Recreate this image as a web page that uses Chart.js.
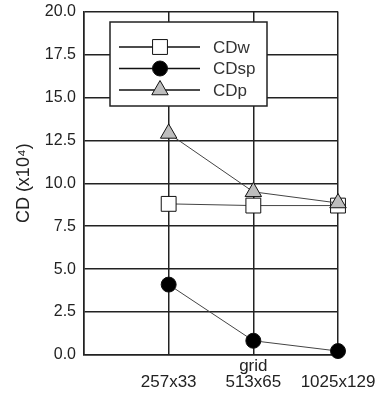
<!DOCTYPE html>
<html>
<head>
<meta charset="utf-8">
<script src="https://cdn.jsdelivr.net/npm/chart.js@4"></script>
<style>
  html, body { margin: 0; padding: 0; background: #fff; }
  #wrap { width: 379px; height: 396px; }
</style>
</head>
<body>
<div id="wrap"><canvas id="chart" width="379" height="396"></canvas></div>
<script>
const grids = ['257x33', '513x65', '1025x129'];
const xTitle = 'grid';
const cdw = [8.8, 8.7, 8.7];
const cdsp = [4.1, 0.83, 0.23];
const cdp = [12.9, 9.5, 8.85];
const yTicks = [0, 2.5, 5, 7.5, 10, 12.5, 15, 17.5, 20];

const ink = '#222';
const font = 'Liberation Sans, Arial, sans-serif';

const toPoints = (vals) => vals.map((v, i) => ({ x: i + 1, y: v }));

// legend box drawn inside the plot, each entry: line with marker in the middle
const boxLegend = {
  id: 'boxLegend',
  afterDatasetsDraw(chart) {
    const ctx = chart.ctx;
    const x0 = 110, y0 = 22, w = 157, h = 84;
    ctx.save();
    ctx.fillStyle = '#fff';
    ctx.fillRect(x0, y0, w, h);
    ctx.strokeStyle = ink;
    ctx.lineWidth = 1.5;
    ctx.strokeRect(x0, y0, w, h);
    chart.data.datasets.forEach((ds, i) => {
      const y = 47 + i * 21.5;
      ctx.strokeStyle = '#111';
      ctx.lineWidth = 1.5;
      ctx.beginPath();
      ctx.moveTo(119, y);
      ctx.lineTo(200, y);
      ctx.stroke();
      drawMarker(ctx, ds, 160, y);
      ctx.fillStyle = '#333';
      ctx.font = '17px ' + font;
      ctx.textBaseline = 'middle';
      ctx.textAlign = 'left';
      ctx.fillText(ds.label, 213, y + 1);
    });
    ctx.restore();
  }
};

function drawMarker(ctx, ds, x, y) {
  const r = ds.pointRadius;
  ctx.fillStyle = ds.pointBackgroundColor;
  ctx.strokeStyle = ds.pointBorderColor;
  ctx.lineWidth = ds.pointBorderWidth;
  ctx.beginPath();
  if (ds.pointStyle === 'rect') {
    const s = r * Math.SQRT1_2;
    ctx.rect(x - s, y - s, 2 * s, 2 * s);
  } else if (ds.pointStyle === 'triangle') {
    ctx.moveTo(x, y - r);
    ctx.lineTo(x + r * Math.sin(Math.PI / 3), y + r / 2);
    ctx.lineTo(x - r * Math.sin(Math.PI / 3), y + r / 2);
    ctx.closePath();
  } else {
    ctx.arc(x, y, r, 0, Math.PI * 2);
  }
  ctx.fill();
  ctx.stroke();
}

// lower order is painted last, so CDp sits on top
const series = (label, vals, style, radius, fill, order) => ({
  label,
  data: toPoints(vals),
  order,
  borderColor: '#444',
  borderWidth: 1,
  pointStyle: style,
  pointRadius: radius,
  pointBackgroundColor: fill,
  pointBorderColor: '#111',
  pointBorderWidth: 1,
  showLine: true,
  clip: false
});

new Chart(document.getElementById('chart'), {
  type: 'scatter',
  data: {
    datasets: [
      series('CDw', cdw, 'rect', 10.5, '#fff', 3),
      series('CDsp', cdsp, 'circle', 7.5, '#000', 2),
      series('CDp', cdp, 'triangle', 9.5, '#bdbdbd', 1)
    ]
  },
  options: {
    responsive: false,
    animation: false,
    layout: { padding: { top: 10, right: 41, left: 0, bottom: 0 } },
    plugins: { legend: { display: false }, tooltip: { enabled: false } },
    scales: {
      x: {
        type: 'linear',
        min: 0,
        max: grids.length,
        afterFit(scale) {
          scale.height = 41;
          scale.paddingLeft = 0;
          scale.paddingRight = 0;
        },
        afterBuildTicks(scale) {
          scale.ticks = [0, 1, 2, 3].map(v => ({ value: v }));
        },
        ticks: {
          autoSkip: false,
          maxRotation: 0,
          padding: 11,
          color: ink,
          crossAlign: 'far',
          font: { family: font, size: 17, lineHeight: '16px' },
          callback(v) {
            const label = grids[v - 1];
            if (!label) return '';
            return v === 2 ? [xTitle, label] : label;
          }
        },
        grid: { color: ink, lineWidth: 1.5, drawTicks: false },
        border: { color: ink, width: 1.5 }
      },
      y: {
        min: 0,
        max: 20,
        afterFit(scale) {
          scale.width = 84;
          scale.paddingTop = 0;
          scale.paddingBottom = 0;
        },
        afterBuildTicks(scale) {
          scale.ticks = yTicks.map(v => ({ value: v }));
        },
        ticks: {
          padding: 8,
          color: ink,
          font: { family: font, size: 16 },
          callback: (v) => v.toFixed(1)
        },
        title: {
          display: true,
          text: 'CD (x10\u2074)',
          color: ink,
          font: { family: font, size: 18 },
          padding: { top: 13, bottom: 0 }
        },
        grid: { color: ink, lineWidth: 1.5, drawTicks: false },
        border: { color: ink, width: 1.5 }
      }
    }
  },
  plugins: [boxLegend]
});
</script>
</body>
</html>
